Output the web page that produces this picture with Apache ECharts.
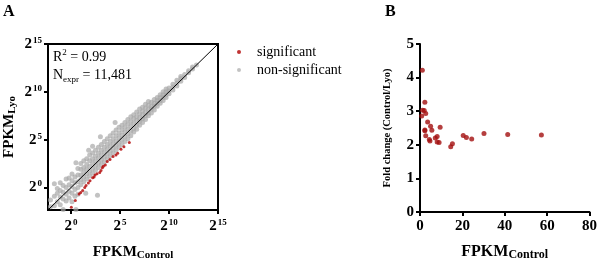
<!DOCTYPE html>
<html>
<head>
<meta charset="utf-8">
<script src="https://cdn.jsdelivr.net/npm/echarts@6/dist/echarts.min.js"></script>
<style>
  html, body { margin: 0; padding: 0; background: #fff; }
  #chart { width: 600px; height: 266px; }
</style>
</head>
<body>
<div id="chart"></div>
<script>
// panel A: log2 FPKM values (control, lyo)
const logTicks = [0, 5, 10, 15];
const nonSignificant = [
  [-2.1, -2.0], [-2.1, -1.3], [-1.7, -1.9], [-1.7, -0.9], [-1.7, 0.4], [-1.4, -1.5], [-1.4, -0.6], [-1.4, -0.1],
  [-1.1, -1.8], [-1.1, -1.0], [-1.1, -0.3], [-1.1, 0.5], [-0.8, -2.3], [-0.8, -1.2], [-0.8, -0.5], [-0.8, 0.2],
  [-0.5, -1.4], [-0.5, -0.7], [-0.5, 0.0], [-0.5, 0.9], [-0.2, -1.1], [-0.2, -0.4], [-0.2, 0.3], [-0.2, 1.0],
  [0.1, -1.5], [0.1, -0.6], [0.1, 0.1], [0.1, 0.7], [0.1, 1.4], [0.4, -0.9], [0.4, -0.2], [0.4, 0.5], [0.4, 1.1], [0.5, -2.3],
  [0.7, -0.7], [0.7, 0.0], [0.7, 0.6], [0.7, 1.3], [0.7, 2.0], [0.5, 2.6], [1.5, -0.6], [2.7, -0.8],
  [1.0, 0.3], [1.0, 0.8], [1.0, 1.3], [1.0, 1.9], [1.0, 2.5], [1.3, 0.6], [1.3, 1.1], [1.3, 1.6], [1.3, 2.1], [1.3, 2.8],
  [1.6, 0.9], [1.6, 1.4], [1.6, 1.9], [1.6, 2.4], [1.6, 3.0], [1.9, 1.2], [1.9, 1.7], [1.9, 2.2], [1.9, 2.8], [1.9, 3.4],
  [2.2, 1.5], [2.2, 2.0], [2.2, 2.5], [2.2, 3.0], [2.2, 3.6], [2.2, 4.3], [1.8, 3.9],
  [2.5, 1.8], [2.5, 2.3], [2.5, 2.8], [2.5, 3.3], [2.5, 3.9], [2.8, 2.1], [2.8, 2.6], [2.8, 3.1], [2.8, 3.6], [2.8, 4.2],
  [3.1, 2.4], [3.1, 2.9], [3.1, 3.4], [3.1, 3.9], [3.1, 4.5], [3.0, 5.3], [3.4, 2.7], [3.4, 3.2], [3.4, 3.7], [3.4, 4.2], [3.4, 4.8],
  [3.7, 3.0], [3.7, 3.5], [3.7, 4.0], [3.7, 4.5], [3.7, 5.1], [4.0, 3.3], [4.0, 3.8], [4.0, 4.3], [4.0, 4.8], [4.0, 5.4],
  [4.3, 3.6], [4.3, 4.1], [4.3, 4.6], [4.3, 5.1], [4.3, 5.7], [4.6, 3.9], [4.6, 4.4], [4.6, 4.9], [4.6, 5.4], [4.6, 6.0], [4.5, 6.8],
  [4.9, 4.2], [4.9, 4.7], [4.9, 5.2], [4.9, 5.7], [4.9, 6.3], [5.2, 4.5], [5.2, 5.0], [5.2, 5.5], [5.2, 6.0], [5.2, 6.5],
  [5.5, 4.8], [5.5, 5.3], [5.5, 5.8], [5.5, 6.3], [5.5, 6.8], [5.8, 5.1], [5.8, 5.6], [5.8, 6.1], [5.8, 6.6], [5.8, 7.1],
  [6.1, 5.4], [6.1, 5.9], [6.1, 6.4], [6.1, 6.9], [6.1, 7.4], [6.4, 5.8], [6.4, 6.2], [6.4, 6.7], [6.4, 7.2], [6.4, 7.6],
  [6.7, 6.1], [6.7, 6.5], [6.7, 7.0], [6.7, 7.4], [6.7, 7.9], [7.0, 6.5], [7.0, 6.9], [7.0, 7.3], [7.0, 7.7], [7.0, 8.2],
  [7.3, 6.8], [7.3, 7.2], [7.3, 7.6], [7.3, 8.0], [7.3, 8.4], [7.6, 7.1], [7.6, 7.5], [7.6, 7.9], [7.6, 8.3], [7.6, 8.7],
  [7.9, 7.5], [7.9, 7.8], [7.9, 8.2], [7.9, 8.6], [7.9, 9.0], [8.2, 7.8], [8.2, 8.2], [8.2, 8.5], [8.2, 8.9],
  [8.5, 8.1], [8.5, 8.5], [8.5, 8.8], [8.5, 9.2], [8.8, 8.5], [8.8, 8.8], [8.8, 9.1], [8.8, 9.4],
  [9.1, 8.8], [9.1, 9.1], [9.1, 9.4], [9.1, 9.7], [9.4, 9.1], [9.4, 9.4], [9.4, 9.7], [9.4, 10.0],
  [9.7, 9.4], [9.7, 9.7], [9.7, 10.0], [9.7, 10.3], [10.0, 9.8], [10.0, 10.1], [10.0, 10.4],
  [10.4, 10.2], [10.4, 10.5], [10.4, 10.8], [10.8, 10.6], [10.8, 10.9], [10.8, 11.2],
  [11.2, 11.1], [11.2, 11.4], [11.2, 11.6], [11.6, 11.5], [11.6, 11.8], [12.0, 12.0], [12.0, 12.2],
  [12.4, 12.4], [12.4, 12.6], [12.8, 12.8]
];
const significant = [
  [0.03, -2.07], [0.44, -1.36], [0.82, -0.68], [0.99, -0.51], [1.19, -0.31], [1.4, 0.0], [1.53, 0.2],
  [1.77, 0.48], [1.94, 0.71], [2.21, 1.02], [2.35, 1.09], [2.45, 1.3], [2.65, 1.43], [2.93, 1.56],
  [3.06, 1.77], [3.2, 2.07], [3.3, 2.21], [3.5, 2.35], [3.7, 2.72], [3.98, 2.93], [4.29, 3.23],
  [4.59, 3.4], [4.76, 3.57], [5.1, 4.0], [5.4, 4.25], [5.95, 4.7]
];
const identity = [[-2.35, -2.35], [15, 15]];

// panel B: FPKM control vs fold change
const foldChange = [
  [1.1, 4.22], [2.3, 3.27], [1.2, 3.03], [2.0, 3.02], [0.8, 2.86], [2.7, 2.93], [3.6, 2.68],
  [5.0, 2.55], [9.5, 2.52], [5.6, 2.43], [2.3, 2.42], [2.3, 2.44], [2.7, 2.27], [4.4, 2.16],
  [4.7, 2.11], [7.2, 2.20], [8.1, 2.25], [8.1, 2.08], [9.0, 2.07], [14.5, 1.94], [15.3, 2.03],
  [20.4, 2.28], [21.9, 2.22], [24.4, 2.17], [30.2, 2.34], [41.4, 2.31], [57.3, 2.29]
];

const serif = '"Liberation Serif", "DejaVu Serif", serif';
const chart = echarts.init(document.getElementById('chart'));

const powLabel = {
  customValues: logTicks,
  formatter: v => '{b|2}{s|' + v + '}',
  rich: {
    b: { fontFamily: serif, fontWeight: 'bold', fontSize: 15, color: '#000' },
    s: { fontFamily: serif, fontWeight: 'bold', fontSize: 9, color: '#000', verticalAlign: 'top', padding: [0, 0, 7, 1] }
  }
};
const subRich = {
  b: { fontFamily: serif, fontWeight: 'bold', fontSize: 15, color: '#000' },
  sub: { fontFamily: serif, fontWeight: 'bold', fontSize: 11, color: '#000', verticalAlign: 'bottom', padding: [6, 0, 0, 0] }
};
const subRichB = {
  b: { fontFamily: serif, fontWeight: 'bold', fontSize: 16, color: '#000' },
  sub: { fontFamily: serif, fontWeight: 'bold', fontSize: 12, color: '#000', verticalAlign: 'bottom', padding: [6, 0, 0, 0] }
};
const blackLine = { show: true, onZero: false, lineStyle: { color: '#000', width: 2 } };
const blackTick = { show: true, length: 4, lineStyle: { color: '#000', width: 2 } };

const option = {
  animation: false,
  backgroundColor: '#fff',
  grid: [
    { left: 48, top: 44, width: 170, height: 173, show: true, borderColor: '#000', borderWidth: 2 },
    { left: 420, top: 44, width: 171, height: 173 }
  ],
  legend: {
    orient: 'vertical',
    left: 232,
    top: 40,
    itemGap: 4,
    itemWidth: 4,
    itemHeight: 4,
    icon: 'circle',
    data: ['significant', 'non-significant'],
    textStyle: { fontFamily: serif, fontSize: 14, color: '#000', padding: [0, 0, 0, 11] }
  },
  xAxis: [
    {
      gridIndex: 0, type: 'value', min: -2.35, max: 15,
      axisLine: blackLine,
      axisTick: Object.assign({ customValues: logTicks }, blackTick),
      axisLabel: Object.assign({ margin: 8 }, powLabel),
      splitLine: { show: false },
      name: '{b|FPKM}{sub|Control}', nameLocation: 'middle', nameGap: 34,
      nameTextStyle: { rich: subRich }
    },
    {
      gridIndex: 1, type: 'value', min: 0, max: 80, interval: 20,
      axisLine: blackLine, axisTick: blackTick,
      axisLabel: { fontFamily: serif, fontWeight: 'bold', fontSize: 15, color: '#000', margin: 7 },
      splitLine: { show: false },
      name: '{b|FPKM}{sub|Control}', nameLocation: 'middle', nameGap: 31,
      nameTextStyle: { rich: subRichB }
    }
  ],
  yAxis: [
    {
      gridIndex: 0, type: 'value', min: -2.35, max: 15,
      axisLine: blackLine,
      axisTick: Object.assign({ customValues: logTicks }, blackTick),
      axisLabel: Object.assign({ margin: 6 }, powLabel),
      splitLine: { show: false },
      name: '{b|FPKM}{sub|Lyo}', nameLocation: 'middle', nameGap: 30, nameRotate: 90,
      nameTextStyle: { rich: subRich }
    },
    {
      gridIndex: 1, type: 'value', min: 0, max: 5, interval: 1,
      axisLine: blackLine, axisTick: blackTick,
      axisLabel: { fontFamily: serif, fontWeight: 'bold', fontSize: 15, color: '#000', margin: 6 },
      splitLine: { show: false },
      name: 'Fold change (Control/Lyo)', nameLocation: 'middle', nameGap: 27, nameRotate: 90,
      nameTextStyle: { fontFamily: serif, fontWeight: 'bold', fontSize: 10.5, color: '#000' }
    }
  ],
  graphic: [
    { type: 'text', left: 3, top: 4, style: { text: 'A', font: 'bold 16px ' + serif, fill: '#000' } },
    { type: 'text', left: 385, top: 4, style: { text: 'B', font: 'bold 16px ' + serif, fill: '#000' } },
    {
      type: 'text', left: 53, top: 48,
      style: {
        text: '{n|R}{s|2}{n| = 0.99}\n{n|N}{d|expr}{n| = 11,481}',
        rich: {
          n: { fontFamily: serif, fontSize: 14, color: '#000', lineHeight: 18 },
          s: { fontFamily: serif, fontSize: 9, color: '#000', verticalAlign: 'top', padding: [0, 0, 6, 0], lineHeight: 18 },
          d: { fontFamily: serif, fontSize: 9, color: '#000', verticalAlign: 'bottom', padding: [5, 0, 0, 0], lineHeight: 18 }
        }
      }
    }
  ],
  series: [
    {
      name: 'non-significant', type: 'scatter', xAxisIndex: 0, yAxisIndex: 0,
      data: nonSignificant, symbolSize: 5,
      itemStyle: { color: '#a8a8a8', opacity: 0.7 }
    },
    {
      name: 'identity', type: 'line', xAxisIndex: 0, yAxisIndex: 0,
      data: identity, symbol: 'none', silent: true,
      lineStyle: { color: '#000', width: 1 }
    },
    {
      name: 'significant', type: 'scatter', xAxisIndex: 0, yAxisIndex: 0,
      data: significant, symbolSize: 3,
      itemStyle: { color: '#b00000' }
    },
    {
      name: 'fold', type: 'scatter', xAxisIndex: 1, yAxisIndex: 1,
      data: foldChange, symbolSize: 5,
      itemStyle: { color: '#a30f0f' }
    }
  ]
};
chart.setOption(option);
</script>
</body>
</html>
